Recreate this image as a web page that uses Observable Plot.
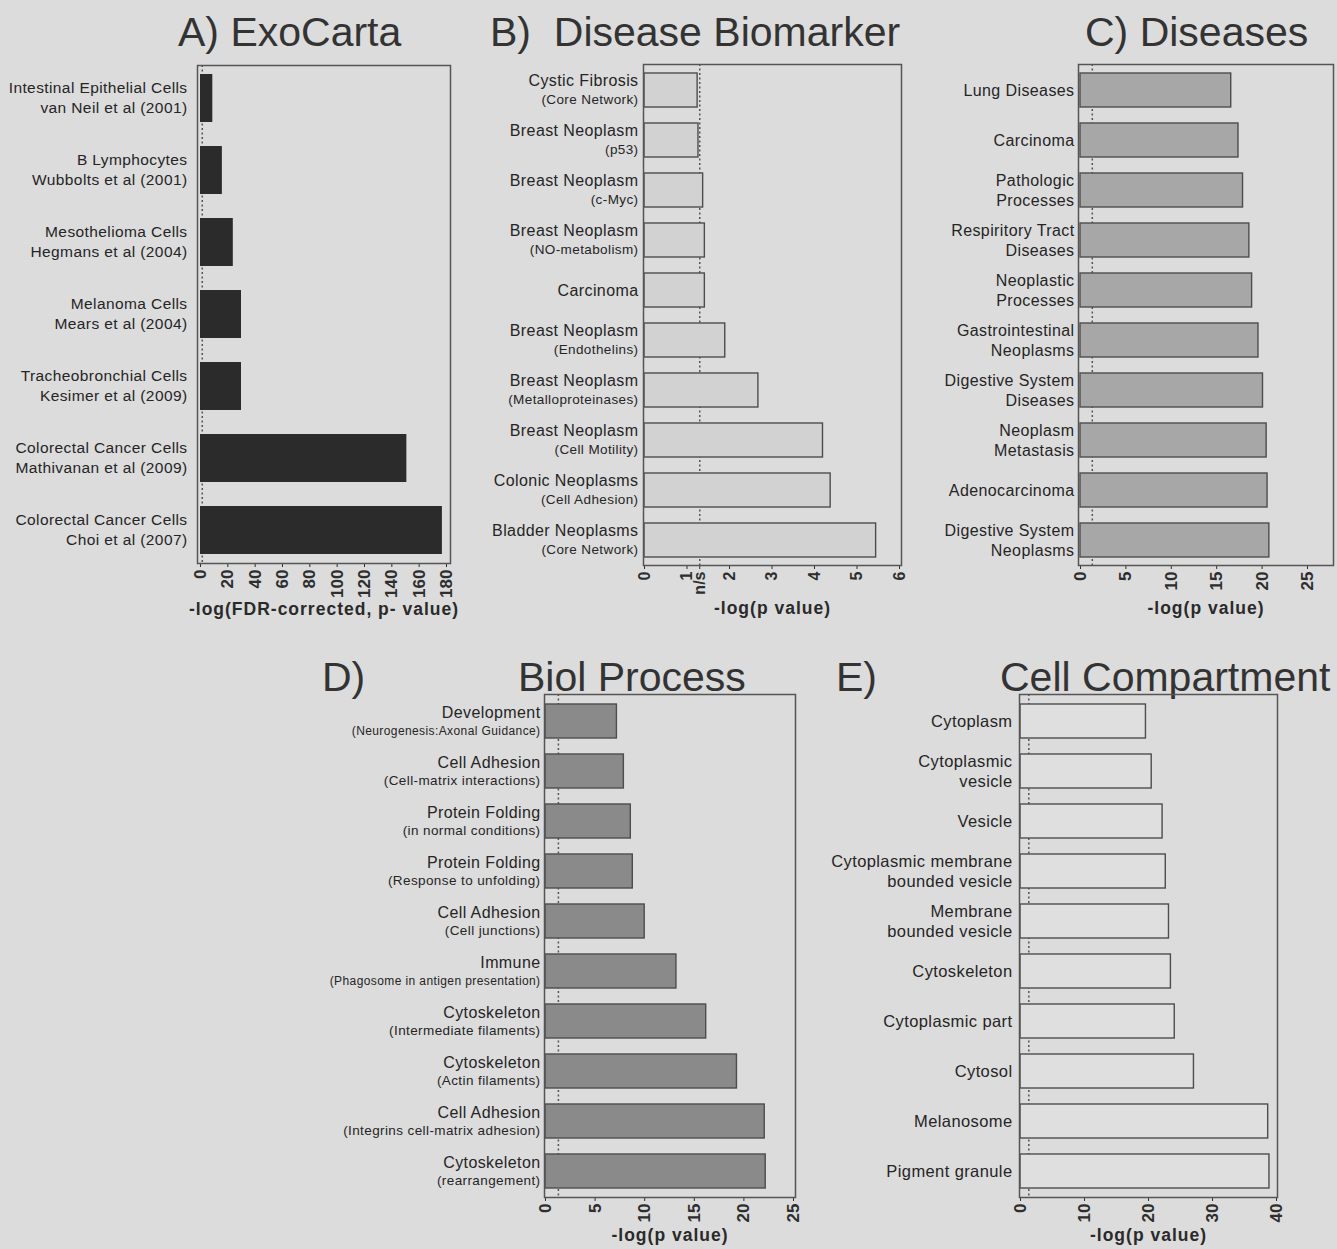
<!DOCTYPE html>
<html><head><meta charset="utf-8">
<script src="https://cdn.jsdelivr.net/npm/d3@7"></script>
<script src="https://cdn.jsdelivr.net/npm/@observablehq/plot@0.6"></script>
<style>
body{margin:0;background:#dcdcdc;}
#page{position:relative;width:1337px;height:1249px;background:#dcdcdc;overflow:hidden;font-family:"Liberation Sans",Arial,sans-serif;color:#333;}
.panel{position:absolute;}
.title{position:absolute;font-size:41px;line-height:41px;white-space:pre;color:#333;}
</style></head><body><div id="page"></div>
<script>
// ---------- data ----------
const titleA = "A) ExoCarta";
const titleB = "B)  Disease Biomarker";
const titleC = "C) Diseases";
const titleDLetter = "D)", titleD = "Biol Process";
const titleELetter = "E)", titleE = "Cell Compartment";

const exoMain = ["Intestinal Epithelial Cells","B Lymphocytes","Mesothelioma Cells","Melanoma Cells","Tracheobronchial Cells","Colorectal Cancer Cells","Colorectal Cancer Cells"];
const exoSub = ["van Neil et al (2001)","Wubbolts et al (2001)","Hegmans et al (2004)","Mears et al (2004)","Kesimer et al (2009)","Mathivanan et al (2009)","Choi et al (2007)"];
const exoValues = [9, 16, 24, 30, 30, 151, 177];
const exoTicks = [0,20,40,60,80,100,120,140,160,180];
const exoAxisLabel = "-log(FDR-corrected, p- value)";

const bioMain = ["Cystic Fibrosis","Breast Neoplasm","Breast Neoplasm","Breast Neoplasm","Carcinoma","Breast Neoplasm","Breast Neoplasm","Breast Neoplasm","Colonic Neoplasms","Bladder Neoplasms"];
const bioSub = ["(Core Network)","(p53)","(c-Myc)","(NO-metabolism)","","(Endothelins)","(Metalloproteinases)","(Cell Motility)","(Cell Adhesion)","(Core Network)"];
const bioValues = [1.25, 1.27, 1.38, 1.42, 1.42, 1.9, 2.68, 4.2, 4.38, 5.45];
const bioTicks = [0, 1, 1.3, 2, 3, 4, 5, 6];
const bioCutoffLabel = "n/s";

const disMain = ["Lung Diseases","Carcinoma","Pathologic","Respiritory Tract","Neoplastic","Gastrointestinal","Digestive System","Neoplasm","Adenocarcinoma","Digestive System"];
const disSub = ["","","Processes","Diseases","Processes","Neoplasms","Diseases","Metastasis","","Neoplasms"];
const disValues = [16.6, 17.4, 17.9, 18.6, 18.9, 19.6, 20.1, 20.5, 20.6, 20.8];
const disTicks = [0, 5, 10, 15, 20, 25];

const procMain = ["Development","Cell Adhesion","Protein Folding","Protein Folding","Cell Adhesion","Immune","Cytoskeleton","Cytoskeleton","Cell Adhesion","Cytoskeleton"];
const procSub = ["(Neurogenesis:Axonal Guidance)","(Cell-matrix interactions)","(in normal conditions)","(Response to unfolding)","(Cell junctions)","(Phagosome in antigen presentation)","(Intermediate filaments)","(Actin filaments)","(Integrins cell-matrix adhesion)","(rearrangement)"];
const procValues = [7.2, 7.9, 8.6, 8.8, 10.0, 13.2, 16.2, 19.3, 22.1, 22.2];
const procTicks = [0, 5, 10, 15, 20, 25];

const compMain = ["Cytoplasm","Cytoplasmic","Vesicle","Cytoplasmic membrane","Membrane","Cytoskeleton","Cytoplasmic part","Cytosol","Melanosome","Pigment granule"];
const compSub = ["","vesicle","","bounded vesicle","bounded vesicle","","","","",""];
const compValues = [19.6, 20.5, 22.2, 22.7, 23.2, 23.5, 24.1, 27.1, 38.7, 38.9];
const compTicks = [0, 10, 20, 30, 40];

const pLabel = "-log(p value)";
const cutoff = 1.3; // -log10(0.05)

// ---------- drawing ----------
const page = document.getElementById("page");
const FONT = '"Liberation Sans", Arial, sans-serif';

function addTitle(text, left, top) {
  const d = document.createElement("div");
  d.className = "title";
  d.textContent = text;
  d.style.left = left + "px";
  d.style.top = top + "px";
  page.appendChild(d);
}

function panel(o) {
  const rows = o.main.map((m, i) => ({key: i, main: m, sub: o.sub[i], value: o.values[i]}));
  const two = rows.filter(d => d.sub);
  const one = rows.filter(d => !d.sub);
  const common = {y: "key", frameAnchor: "left", dx: -o.gap, textAnchor: "end", fontWeight: "normal", fill: "#252525"};
  const svg = Plot.plot({
    width: o.width, height: o.height,
    marginLeft: o.mL, marginRight: o.mR, marginTop: o.mT, marginBottom: o.mB,
    style: {background: "transparent", fontFamily: FONT, fontSize: o.tickSize + "px", fontWeight: "bold", color: "#2e2e2e", overflow: "visible"},
    x: {domain: o.domain, ticks: o.ticks, tickFormat: o.tickFormat, tickRotate: -90, tickSize: 4, tickPadding: 2, label: null,
        insetLeft: o.insetLeft || 0, insetRight: o.insetRight || 0},
    y: {domain: rows.map(d => d.key), axis: null, paddingInner: 0.33, paddingOuter: o.padOuter},
    marks: [
      Plot.ruleX([cutoff], {stroke: "#555", strokeWidth: 1.5, strokeDasharray: "2,2.5"}),
      Plot.barX(rows, {x: "value", y: "key", fill: o.fill, stroke: o.stroke, strokeWidth: o.stroke === "none" ? 0 : 1.4}),
      Plot.frame({stroke: "#555", strokeWidth: 1.5}),
      Plot.text(two, {...common, text: "main", dy: -o.off1, fontSize: o.mainSize}),
      Plot.text(two, {...common, text: "sub", dy: o.off2, fontSize: o.subSize}),
      Plot.text(one, {...common, text: "main", fontSize: o.mainSize}),
      Plot.text([o.axisLabel], {text: d => d, frameAnchor: "bottom", dy: o.axisDy, fontSize: 17.5, fontWeight: "bold", fill: "#2a2a2a"})
    ]
  });
  const sel = d3.select(svg).selectAll("text");
  sel.filter(function() { return this.textContent === o.axisLabel; }).style("letter-spacing", "1px");
  const labelSet = new Set([...o.main, ...o.sub.filter(s => s)]);
  sel.filter(function() { return labelSet.has(this.textContent); }).style("letter-spacing", "0.4px");
  const div = document.createElement("div");
  div.className = "panel";
  div.style.left = o.left + "px";
  div.style.top = o.top + "px";
  div.style.width = o.width + "px";
  div.appendChild(svg);
  page.appendChild(div);
}

addTitle(titleA, 178, 12);
addTitle(titleB, 490, 12);
addTitle(titleC, 1085, 12);
addTitle(titleDLetter, 322, 657);
addTitle(titleD, 518, 657);
addTitle(titleELetter, 836, 657);
addTitle(titleE, 1000, 657);

// A) ExoCarta
panel({main: exoMain, sub: exoSub, values: exoValues, domain: [0, 180], ticks: exoTicks,
  fill: "#2b2b2b", stroke: "none", left: 0, top: 0, width: 470, height: 640,
  mL: 197, mR: 20, mT: 65, mB: 77, insetLeft: 3, insetRight: 4, padOuter: 0.12,
  gap: 10, mainSize: 15.5, subSize: 15.5, off1: 10, off2: 10, tickSize: 17,
  axisLabel: exoAxisLabel, axisDy: 51});

// B) Disease Biomarker
panel({main: bioMain, sub: bioSub, values: bioValues, domain: [0, 6], ticks: bioTicks,
  tickFormat: d => d === cutoff ? bioCutoffLabel : String(d),
  fill: "#d2d2d2", stroke: "#4d4d4d", left: 460, top: 0, width: 460, height: 640,
  mL: 183, mR: 19, mT: 64, mB: 75, insetLeft: 1, insetRight: 2, padOuter: 0.17,
  gap: 5, mainSize: 16, subSize: 13.5, off1: 9.5, off2: 9.5, tickSize: 16,
  axisLabel: pLabel, axisDy: 48});

// C) Diseases
panel({main: disMain, sub: disSub, values: disValues, domain: [0, 25], ticks: disTicks,
  fill: "#a7a7a7", stroke: "#4d4d4d", left: 920, top: 0, width: 417, height: 640,
  mL: 158, mR: 4, mT: 64, mB: 75, insetLeft: 2, insetRight: 26, padOuter: 0.17,
  gap: 4, mainSize: 16, subSize: 16, off1: 10, off2: 10, tickSize: 17,
  axisLabel: pLabel, axisDy: 48});

// D) Biol Process
panel({main: procMain, sub: procSub, values: procValues, domain: [0, 25], ticks: procTicks,
  fill: "#8a8a8a", stroke: "#4d4d4d", left: 320, top: 640, width: 500, height: 609,
  mL: 224, mR: 25, mT: 54, mB: 52, insetLeft: 1, insetRight: 2, padOuter: 0.17,
  gap: 4, mainSize: 16, subSize: d => (d.sub.length > 29 && d.sub.indexOf("Integrins") < 0) ? 12 : 13.5,
  off1: 9, off2: 9.5, tickSize: 17, axisLabel: pLabel, axisDy: 43});

// E) Cell Compartment
panel({main: compMain, sub: compSub, values: compValues, domain: [0, 40], ticks: compTicks,
  fill: "#dfdfdf", stroke: "#4d4d4d", left: 820, top: 640, width: 517, height: 609,
  mL: 199, mR: 60, mT: 54, mB: 52, insetLeft: 1, insetRight: 1, padOuter: 0.17,
  gap: 7, mainSize: 16.5, subSize: 16.5, off1: 10, off2: 10, tickSize: 17,
  axisLabel: pLabel, axisDy: 43});
</script></body></html>
